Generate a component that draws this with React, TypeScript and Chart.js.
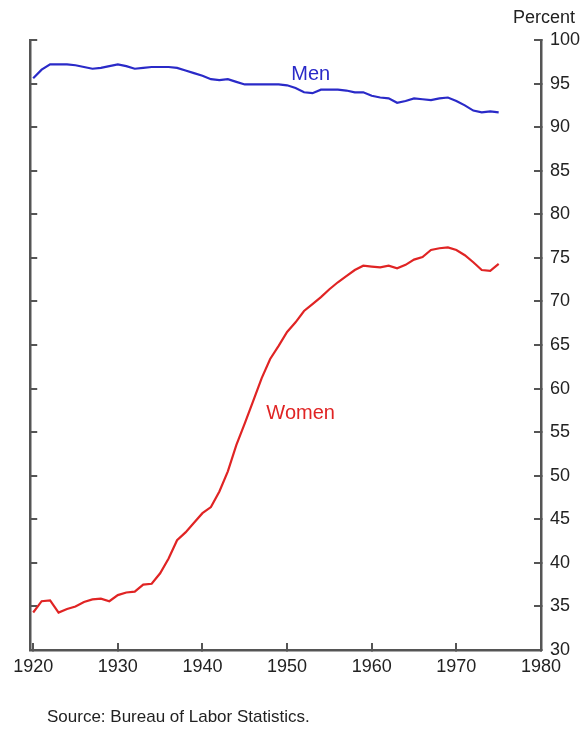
import React, { useEffect, useRef } from "react";
import { Chart, registerables } from "chart.js";

Chart.register(...registerables);

const years = [
  1920, 1921, 1922, 1923, 1924, 1925, 1926, 1927, 1928, 1929,
  1930, 1931, 1932, 1933, 1934, 1935, 1936, 1937, 1938, 1939,
  1940, 1941, 1942, 1943, 1944, 1945, 1946, 1947, 1948, 1949,
  1950, 1951, 1952, 1953, 1954, 1955, 1956, 1957, 1958, 1959,
  1960, 1961, 1962, 1963, 1964, 1965, 1966, 1967, 1968, 1969,
  1970, 1971, 1972, 1973, 1974, 1975,
];

const menValues = [
  95.6, 96.6, 97.2, 97.2, 97.2, 97.1, 96.9, 96.7, 96.8, 97.0,
  97.2, 97.0, 96.7, 96.8, 96.9, 96.9, 96.9, 96.8, 96.5, 96.2,
  95.9, 95.5, 95.4, 95.5, 95.2, 94.9, 94.9, 94.9, 94.9, 94.9,
  94.8, 94.5, 94.0, 93.9, 94.3, 94.3, 94.3, 94.2, 94.0, 94.0,
  93.6, 93.4, 93.3, 92.8, 93.0, 93.3, 93.2, 93.1, 93.3, 93.4,
  93.0, 92.5, 91.9, 91.7, 91.8, 91.7,
];

const womenValues = [
  34.3, 35.6, 35.7, 34.3, 34.7, 35.0, 35.5, 35.8, 35.9, 35.6,
  36.3, 36.6, 36.7, 37.5, 37.6, 38.8, 40.5, 42.6, 43.5, 44.6,
  45.7, 46.4, 48.2, 50.5, 53.5, 56.0, 58.6, 61.2, 63.4, 64.9,
  66.5, 67.6, 68.9, 69.7, 70.5, 71.4, 72.2, 72.9, 73.6, 74.1,
  74.0, 73.9, 74.1, 73.8, 74.2, 74.8, 75.1, 75.9, 76.1, 76.2,
  75.9, 75.3, 74.5, 73.6, 73.5, 74.3,
];

const xTickValues = [1920, 1930, 1940, 1950, 1960, 1970, 1980];
const yTickValues = [30, 35, 40, 45, 50, 55, 60, 65, 70, 75, 80, 85, 90, 95, 100];
const seriesNames = ["Men", "Women"];
const unitLabel = "Percent";
const sourceNote = "Source: Bureau of Labor Statistics.";

const FONT = "'Liberation Sans', Arial, sans-serif";
const MEN_COLOR = "#2a2ac8";
const WOMEN_COLOR = "#e02424";
const AXIS_COLOR = "#555555";
const TEXT_COLOR = "#222222";

export default function App() {
  const canvasRef = useRef<HTMLCanvasElement | null>(null);

  useEffect(() => {
    document.body.style.margin = "0";
    const canvas = canvasRef.current;
    if (!canvas) return;

    const labelsPlugin = {
      id: "inlineLabels",
      afterDraw(chart: any) {
        const ctx = chart.ctx;
        const xs = chart.scales.x;
        const ys = chart.scales.y;
        ctx.save();
        ctx.font = `20px ${FONT}`;
        ctx.textAlign = "center";
        ctx.textBaseline = "middle";
        ctx.fillStyle = MEN_COLOR;
        ctx.fillText(seriesNames[0], xs.getPixelForValue(1952.8), ys.getPixelForValue(96.1));
        ctx.fillStyle = WOMEN_COLOR;
        ctx.fillText(seriesNames[1], xs.getPixelForValue(1951.6), ys.getPixelForValue(57.1));
        ctx.fillStyle = TEXT_COLOR;
        ctx.font = `18px ${FONT}`;
        ctx.textAlign = "right";
        ctx.fillText(unitLabel, 575, 18);
        ctx.restore();
      },
    };

    const gridCommon = {
      drawOnChartArea: false,
      drawTicks: true,
      tickLength: -7,
      color: AXIS_COLOR,
      lineWidth: 2,
    };
    const borderCommon = { display: true, color: AXIS_COLOR, width: 2.5 };

    const chart = new Chart(canvas, {
      type: "line",
      data: {
        datasets: [
          {
            label: seriesNames[0],
            data: years.map((yr, i) => ({ x: yr, y: menValues[i] })),
            borderColor: MEN_COLOR,
            borderWidth: 2.2,
            pointRadius: 0,
            tension: 0,
            yAxisID: "y",
          },
          {
            label: seriesNames[1],
            data: years.map((yr, i) => ({ x: yr, y: womenValues[i] })),
            borderColor: WOMEN_COLOR,
            borderWidth: 2.2,
            pointRadius: 0,
            tension: 0,
            yAxisID: "y",
          },
        ],
      },
      plugins: [labelsPlugin],
      options: {
        animation: false,
        responsive: false,
        maintainAspectRatio: false,
        layout: { padding: { left: 28, top: 40, right: 0, bottom: 0 } },
        plugins: {
          legend: { display: false },
          tooltip: { enabled: false },
        },
        scales: {
          x: {
            type: "linear",
            min: 1919.65,
            max: 1980,
            afterBuildTicks: (scale: any) => {
              scale.ticks = xTickValues.map((v) => ({ value: v }));
            },
            afterFit: (scale: any) => {
              scale.height = 79;
            },
            ticks: {
              color: TEXT_COLOR,
              font: { family: FONT, size: 18 },
              padding: 13,
              maxRotation: 0,
              autoSkip: false,
              callback: (v: any) => String(v),
            },
            grid: gridCommon,
            border: borderCommon,
          },
          y: {
            type: "linear",
            position: "right",
            min: 30,
            max: 100,
            afterBuildTicks: (scale: any) => {
              scale.ticks = yTickValues.map((v) => ({ value: v }));
            },
            afterFit: (scale: any) => {
              scale.width = 43;
            },
            ticks: {
              color: TEXT_COLOR,
              font: { family: FONT, size: 18 },
              padding: 16,
              autoSkip: false,
              callback: (v: any) => String(v),
            },
            grid: gridCommon,
            border: borderCommon,
          },
          yL: {
            type: "linear",
            position: "left",
            min: 30,
            max: 100,
            afterBuildTicks: (scale: any) => {
              scale.ticks = yTickValues.map((v) => ({ value: v }));
            },
            afterFit: (scale: any) => {
              scale.width = 0;
            },
            ticks: { display: false },
            grid: gridCommon,
            border: borderCommon,
          },
        },
      },
    } as any);

    return () => chart.destroy();
  }, []);

  return (
    <div style={{ position: "relative", width: 584, height: 729, background: "#fff" }}>
      <canvas ref={canvasRef} width={584} height={729} style={{ display: "block" }} />
      <div
        style={{
          position: "absolute",
          left: 47,
          top: 707,
          fontFamily: FONT,
          fontSize: 17,
          color: TEXT_COLOR,
          whiteSpace: "nowrap",
        }}
      >
        {sourceNote}
      </div>
    </div>
  );
}
